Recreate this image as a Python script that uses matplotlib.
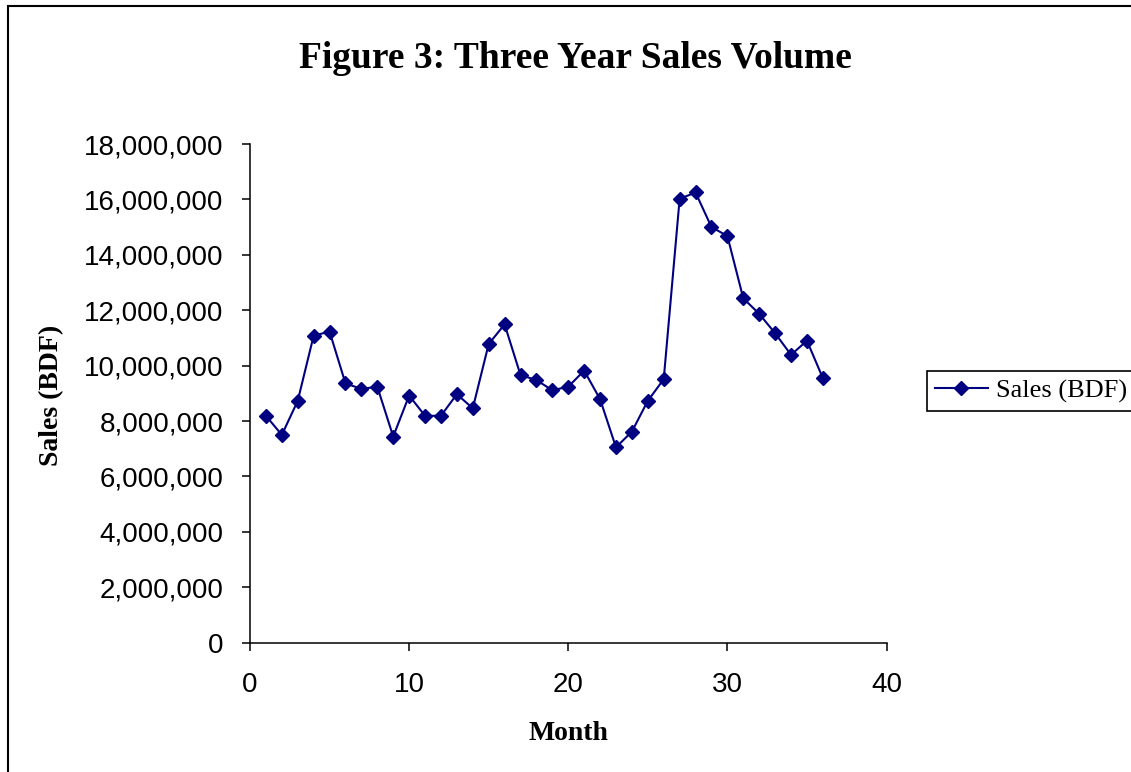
import matplotlib
matplotlib.use('Agg')
import matplotlib.pyplot as plt
from matplotlib.ticker import FuncFormatter
from matplotlib.patches import Rectangle

months = list(range(1, 37))
sales = [8190000, 7500000, 8730000, 11080000, 11230000, 9360000,
         9160000, 9240000, 7440000, 8920000, 8190000, 8190000,
         8970000, 8460000, 10780000, 11490000, 9660000, 9480000,
         9110000, 9240000, 9820000, 8790000, 7050000, 7620000,
         8730000, 9510000, 16020000, 16250000, 15000000, 14680000,
         12430000, 11870000, 11170000, 10390000, 10900000, 9550000]

navy = '#000080'
serif = ['Liberation Serif', 'DejaVu Serif']
sans = ['Liberation Sans', 'DejaVu Sans']

fig = plt.figure(figsize=(11.31, 7.72), dpi=100)
# outer chart border (right and bottom edges fall outside the picture)
fig.patches.append(Rectangle((8 / 1131, -0.05), 1.1, 1 - 6 / 772 + 0.05,
                             transform=fig.transFigure, fill=False,
                             edgecolor='black', linewidth=1.5))

ax = fig.add_axes([250 / 1131, 1 - 642.7 / 772, 636.5 / 1131, 498.7 / 772])
line, = ax.plot(months, sales, color=navy, linewidth=1.5, marker='D',
                markersize=7.2, markerfacecolor=navy, markeredgecolor=navy,
                label='Sales (BDF)')

ax.set_xlim(0, 40)
ax.set_ylim(0, 18000000)
ax.set_xticks(range(0, 41, 10))
ax.set_yticks(range(0, 18000001, 2000000))
ax.yaxis.set_major_formatter(FuncFormatter(lambda v, p: '{:,.0f}'.format(v)))

for s in ['top', 'right']:
    ax.spines[s].set_visible(False)
for s in ['left', 'bottom']:
    ax.spines[s].set_linewidth(1.1)
ax.tick_params(direction='out', length=6, width=1.1, labelsize=20)
ax.tick_params(axis='y', pad=13)
ax.tick_params(axis='x', pad=15)
for lab in ax.get_xticklabels() + ax.get_yticklabels():
    lab.set_family(sans)

fig.text(575 / 1131, 1 - 58 / 772, 'Figure 3: Three Year Sales Volume',
         ha='center', va='center', fontsize=27, fontweight='bold', family=serif)
fig.text(568 / 1131, 1 - 733 / 772, 'Month', ha='center', va='center',
         fontsize=20, fontweight='bold', family=serif)
fig.text(52 / 1131, 1 - 395 / 772, 'Sales (BDF)', ha='center', va='center',
         rotation=90, fontsize=20, fontweight='bold', family=serif)

leg = fig.legend(handles=[line], loc='center left',
                 bbox_to_anchor=(927 / 1131, 1 - 391 / 772),
                 prop={'family': serif, 'size': 19}, frameon=True,
                 fancybox=False, framealpha=1, edgecolor='black',
                 handlelength=2.0, handletextpad=0.3, borderpad=0.3,
                 borderaxespad=0)
leg.get_frame().set_linewidth(1.2)

fig.savefig('out.png', dpi=100)
